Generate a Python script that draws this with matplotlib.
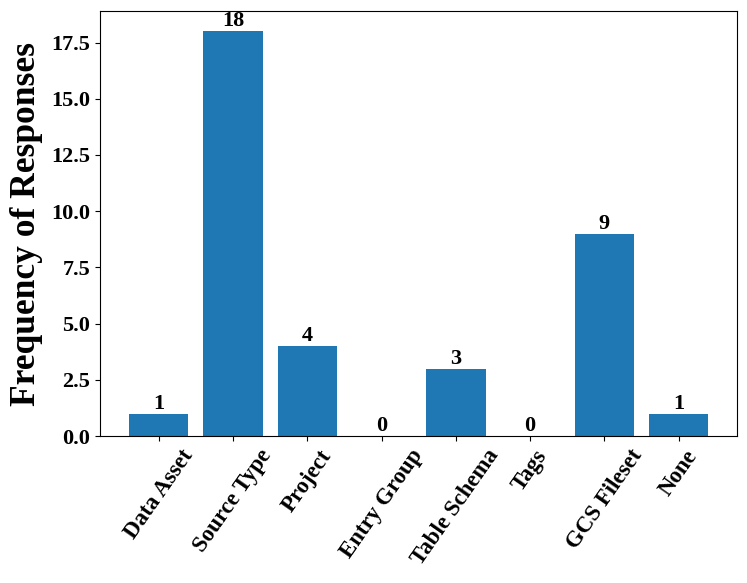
import matplotlib
matplotlib.use("Agg")
import matplotlib.pyplot as plt

plt.rcParams['font.family'] = ['Liberation Serif', 'DejaVu Serif']
plt.rcParams['font.weight'] = 'bold'

# data
categories = ['Data Asset', 'Source Type', 'Project', 'Entry Group',
              'Table Schema', 'Tags', 'GCS Fileset', 'None']
counts = [1, 18, 4, 0, 3, 0, 9, 1]

fig, ax = plt.subplots(figsize=(7.47, 5.83), dpi=100)
fig.subplots_adjust(left=0.134, right=0.987, top=0.981, bottom=0.252)

bars = ax.bar(categories, counts, color='#1f77b4')
for b, c in zip(bars, counts):
    ax.text(b.get_x() + b.get_width() / 2, b.get_height(), str(c),
            ha='center', va='bottom', fontsize=16, fontweight='bold')

ax.set_ylabel('Frequency of Responses', fontsize=25.5, fontweight='bold',
              labelpad=6)
ax.tick_params(axis='y', labelsize=16)
ax.tick_params(axis='x', labelsize=16.5, rotation=55)
for lbl in ax.get_yticklabels() + ax.get_xticklabels():
    lbl.set_fontweight('bold')

fig.savefig('out.png', dpi=100)
